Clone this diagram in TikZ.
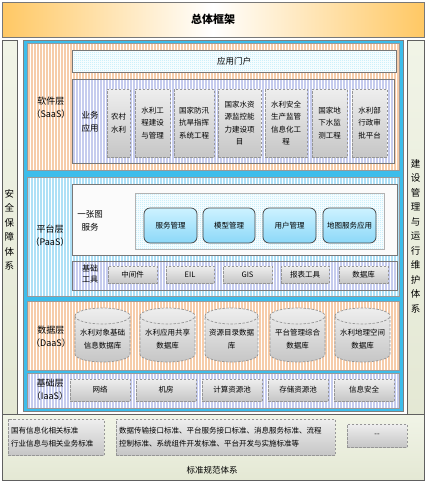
\documentclass[tikz,border=0pt]{standalone}
\usepackage{fontspec}
\setmainfont{Noto Sans CJK SC}
\usetikzlibrary{patterns,patterns.meta}
\pgfdeclarepatternformonly{finechecker}{\pgfqpoint{0pt}{0pt}}{\pgfqpoint{2pt}{2pt}}{\pgfqpoint{2pt}{2pt}}{%
  \pgfpathrectangle{\pgfqpoint{0pt}{0pt}}{\pgfqpoint{1pt}{1pt}}%
  \pgfpathrectangle{\pgfqpoint{1pt}{1pt}}{\pgfqpoint{1pt}{1pt}}%
  \pgfusepath{fill}}
\definecolor{titleor}{RGB}{255,200,100}
\definecolor{framecyan}{RGB}{61,189,235}
\definecolor{orbase}{RGB}{246,204,170}
\definecolor{blbase}{RGB}{174,224,246}
\definecolor{lvbase}{RGB}{198,204,238}
\definecolor{chkblue}{RGB}{178,232,250}
\definecolor{sidetop}{RGB}{241,244,231}
\definecolor{sidebot}{RGB}{228,232,212}
\definecolor{svctop}{RGB}{205,242,255}
\definecolor{svcbot}{RGB}{140,216,248}
\definecolor{gtop}{RGB}{238,238,238}
\definecolor{gbot}{RGB}{198,198,198}
\definecolor{dashgray}{RGB}{150,150,150}
\definecolor{edgegray}{RGB}{120,120,120}
\newcommand\mybox[7][]{\node[#1, minimum width={(#5)-(#3)}, minimum height={(#6)-(#4)}] (#2) at ({((#3)+(#5))/2},{((#4)+(#6))/2}) {#7};}
\newcommand\dbcyl[6]{%
  \pgfmathsetmacro\rx{((#4)-(#2))/2}%
  \path[dbshade] (#2,#3+8) arc[start angle=180,end angle=360,x radius=\rx,y radius=8] -- (#4,#5-8) arc[start angle=0,end angle=180,x radius=\rx,y radius=8] -- cycle;
  \draw[dashline] (#2,#3+8) arc[start angle=180,end angle=0,x radius=\rx,y radius=8];
  \node[base] (#1) at ({((#2)+(#4))/2},{((#3)+(#5))/2+4}) {#6};}
\tikzset{
  base/.style={inner sep=0pt, outer sep=0pt, align=center, font=\fontsize{7.5}{12.5}\selectfont},
  lbl/.style={base, font=\fontsize{9}{13}\selectfont},
  vlbl/.style={base, font=\fontsize{9.5}{14.5}\selectfont},
  titlebar/.style={base, draw=edgegray, line width=0.8pt, left color=titleor, right color=titleor, middle color=white, font=\fontsize{11}{13}\selectfont\bfseries},
  sidecol/.style={base, draw=edgegray!80!black, line width=0.8pt, top color=sidetop, bottom color=sidebot},
  frame/.style={base, draw=gray, line width=0.6pt, fill=framecyan},
  stripes/.style={preaction={fill=#1}, pattern={Lines[angle=90,distance=3pt,line width=1pt]}, pattern color=white},
  layer/.style={base, draw=gray!80, line width=0.6pt, stripes=#1},
  panel/.style={base, draw=edgegray, line width=0.7pt},
  checker/.style={preaction={fill=white}, pattern=finechecker, pattern color=chkblue},
  dashbox/.style={base, draw=dashgray, dash pattern=on 2.5pt off 1.5pt, line width=0.7pt, top color=gtop, bottom color=gbot},
  svcbox/.style={base, draw=darkgray, line width=0.7pt, rounded corners=6pt, top color=svctop, bottom color=svcbot},
  dbshade/.style={draw=dashgray, dash pattern=on 2.5pt off 1.5pt, line width=0.7pt, top color=gtop, bottom color=gbot},
  dashline/.style={draw=dashgray, dash pattern=on 2.5pt off 1.5pt, line width=0.7pt}
}
\begin{document}
\begin{tikzpicture}[x=1pt,y=-1pt]
\useasboundingbox (0,0) rectangle (426,485);
\fill[white] (0,0) rectangle (426,485);
% title
\mybox[titlebar]{title}{2}{2}{424}{37}{总体框架}
% side columns and bottom
\mybox[sidecol]{seccol}{2}{40}{17}{414}{}
\mybox[sidecol]{mgmtcol}{407}{40}{424}{414}{}
\mybox[sidecol]{stdarea}{2}{414}{424}{480}{}
\node[vlbl] (sectxt) at (9.5,230) {安\\全\\保\\障\\体\\系};
\node[vlbl] (mgmttxt) at (415.5,236) {建\\设\\管\\理\\与\\运\\行\\维\\护\\体\\系};
% main frame
\mybox[frame]{frame}{23}{40}{403}{411}{}
\mybox[layer=orbase]{saas}{27}{43}{399}{170}{}
\mybox[layer=blbase]{paas}{27}{177}{399}{296}{}
\mybox[layer=orbase]{daas}{27}{301}{399}{370}{}
\mybox[layer=lvbase]{iaas}{27}{373}{399}{408}{}
% SaaS
\node[lbl] (saaslbl) at (51,108) {软件层\\（SaaS）};
\mybox[panel, checker, font=\fontsize{8.5}{12}\selectfont]{portal}{72}{50}{396}{72}{应用门户}
\mybox[panel, stripes=lvbase]{bizapp}{72}{79}{394}{163}{}
\node[base, font=\fontsize{8.5}{12.5}\selectfont] (biztxt) at (90,122) {业务\\应用};
\mybox[dashbox]{a1}{107}{89}{130}{157}{农村\\水利}
\mybox[dashbox]{a2}{135}{89}{170}{157}{水利工\\程建设\\与管理}
\mybox[dashbox]{a3}{174}{89}{214}{157}{国家防汛\\抗旱指挥\\系统工程}
\mybox[dashbox]{a4}{218}{89}{261}{157}{国家水资\\源监控能\\力建设项\\目}
\mybox[dashbox]{a5}{265}{89}{307}{157}{水利安全\\生产监管\\信息化工\\程}
\mybox[dashbox]{a6}{312}{89}{347}{157}{国家地\\下水监\\测工程}
\mybox[dashbox]{a7}{352}{89}{387}{157}{水利部\\行政审\\批平台}
% PaaS
\node[lbl] (paaslbl) at (50,236) {平台层\\（PaaS）};
\mybox[panel, fill=white!97!gray]{onemap}{72}{184}{397}{255}{}
\node[base, font=\fontsize{8.5}{12.5}\selectfont] (onemaptxt) at (90,221) {一张图\\服务};
\mybox[base, draw=gray!60, line width=0.5pt, checker]{svcarea}{135}{193}{384}{249}{}
\mybox[svcbox]{s1}{144}{208}{197}{243}{服务管理}
\mybox[svcbox]{s2}{203}{208}{255}{243}{模型管理}
\mybox[svcbox]{s3}{263}{208}{316}{243}{用户管理}
\mybox[svcbox]{s4}{323}{208}{376}{243}{地图服务应用}
\mybox[panel, stripes=lvbase]{tools}{72}{261}{397}{290}{}
\node[base, font=\fontsize{8}{11.5}\selectfont] (toolstxt) at (90,274) {基础\\工具};
\mybox[dashbox]{t1}{108}{266}{157}{283}{中间件}
\mybox[dashbox]{t2}{166}{266}{214}{283}{EIL}
\mybox[dashbox]{t3}{223}{266}{272}{283}{GIS}
\mybox[dashbox]{t4}{281}{266}{329}{283}{报表工具}
\mybox[dashbox]{t5}{339}{266}{388}{283}{数据库}
% DaaS
\node[lbl] (daaslbl) at (51,337) {数据层\\（DaaS）};
\dbcyl{d1}{75}{308}{130}{362}{水利对象基础\\信息数据库}
\dbcyl{d2}{140}{308}{195}{362}{水利应用共享\\数据库}
\dbcyl{d3}{205}{308}{258}{362}{资源目录数据\\库}
\dbcyl{d4}{270}{308}{325}{362}{平台管理综合\\数据库}
\dbcyl{d5}{335}{308}{390}{362}{水利地理空间\\数据库}
% IaaS
\node[lbl] (iaaslbl) at (50,390) {基础层\\（IaaS）};
\mybox[dashbox]{i1}{70}{379}{130}{401}{网络}
\mybox[dashbox]{i2}{136}{379}{196}{401}{机房}
\mybox[dashbox]{i3}{202}{379}{262}{401}{计算资源池}
\mybox[dashbox]{i4}{268}{379}{328}{401}{存储资源池}
\mybox[dashbox]{i5}{334}{379}{394}{401}{信息安全}
% standards
\mybox[dashbox, align=left, text width=90pt, inner xsep=3pt]{std1}{8}{419}{104}{455}{国有信息化相关标准\\行业信息与相关业务标准}
\mybox[dashbox, align=left, text width=213pt, inner xsep=3pt]{std2}{116}{419}{335}{455}{数据传输接口标准、平台服务接口标准、消息服务标准、流程\\控制标准、系统组件开发标准、平台开发与实施标准等}
\mybox[dashbox]{std3}{347}{424}{407}{447}{-{}-}
\node[base, font=\fontsize{8.5}{12}\selectfont] (stdtxt) at (212,470) {标准规范体系};
\end{tikzpicture}
\end{document}
